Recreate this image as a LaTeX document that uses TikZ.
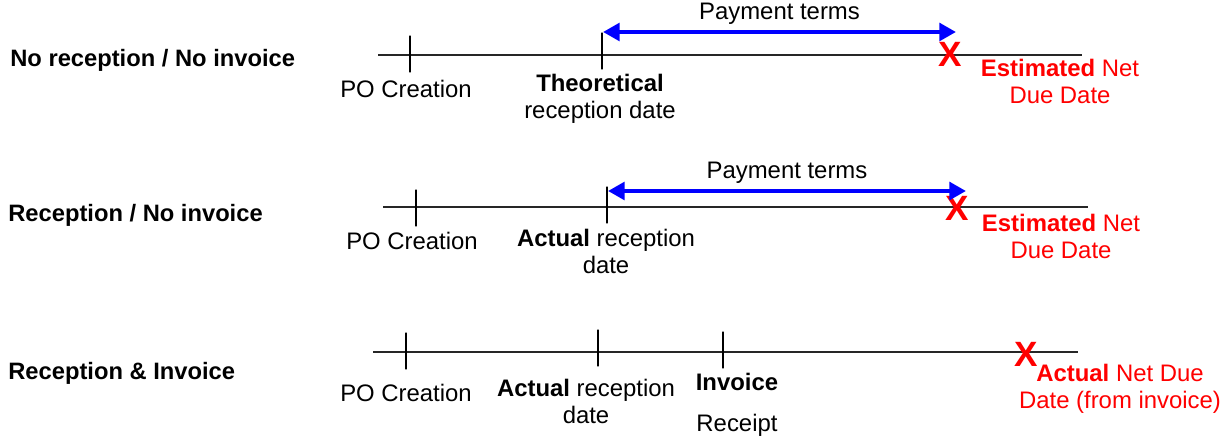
\documentclass[tikz,border=0pt]{standalone}
\usepackage{fontspec}
\setmainfont{Liberation Sans}
\usetikzlibrary{arrows.meta}
\definecolor{termblue}{RGB}{0,0,255}
\definecolor{duered}{RGB}{255,0,0}
\begin{document}
\begin{tikzpicture}[
  x=0.02cm, y=-0.02cm,
  font=\fontsize{13.6}{15.4}\selectfont,
  rowtitle/.style={anchor=west, inner sep=0pt, font=\fontsize{13.5}{16}\selectfont\bfseries},
  axis/.style={line width=1.2pt, black!85},
  tickmark/.style={draw, line width=1pt, rectangle, minimum width=0pt, minimum height=0.74cm, inner sep=0pt},
  lbl/.style={align=center, inner sep=0pt},
  due/.style={align=center, inner sep=0pt, text=duered},
  duex/.style={inner sep=0pt, text=duered, font=\fontsize{20}{20}\selectfont\bfseries},
  terms/.style={line width=2.6pt, termblue, {Triangle[length=9.5pt, width=10pt]}-{Triangle[length=9.5pt, width=10pt]}},
]
\useasboundingbox (0,0) rectangle (1228,442);

% row 1: no reception / no invoice
\node[rowtitle] (title1) at (10,60) {No reception / No invoice};
\coordinate (start1) at (378,55);
\coordinate (end1)   at (1082,55);
\draw[axis] (start1) -- (end1);
\node[tickmark] (po1) at (410,54) {};
\node[tickmark] (rec1) at (602,51) {};
\node[lbl] (polbl1) at (406,89) {PO Creation};
\node[lbl] (reclbl1) at (600,98.5) {\textbf{Theoretical}\\reception date};
\node[duex] (x1) at (950,54) {X};
\node[due] (duelbl1) at (1060,81) {\textbf{Estimated} Net\\Due Date};
\coordinate (tfrom1) at (603,32);
\coordinate (tto1)   at (956,32);
\draw[terms] (tfrom1) -- node[above=3pt, text=black, inner sep=0pt] (pay1) {Payment terms} (tto1);

% row 2: reception / no invoice
\node[rowtitle] (title2) at (8,215) {Reception / No invoice};
\coordinate (start2) at (383,207);
\coordinate (end2)   at (1088,207);
\draw[axis] (start2) -- (end2);
\node[tickmark] (po2) at (416,208) {};
\node[tickmark] (rec2) at (607,205) {};
\node[lbl] (polbl2) at (412,241) {PO Creation};
\node[lbl] (reclbl2) at (606,251.5) {\textbf{Actual} reception\\date};
\node[duex] (x2) at (957,208) {X};
\node[due] (duelbl2) at (1061,236.5) {\textbf{Estimated} Net\\Due Date};
\coordinate (tfrom2) at (608,191);
\coordinate (tto2)   at (966,191);
\draw[terms] (tfrom2) -- node[above=3pt, text=black, inner sep=0pt] (pay2) {Payment terms} (tto2);

% row 3: reception & invoice
\node[rowtitle] (title3) at (8,373) {Reception \& Invoice};
\coordinate (start3) at (373,352);
\coordinate (end3)   at (1078,352);
\draw[axis] (start3) -- (end3);
\node[tickmark] (po3) at (406,351) {};
\node[tickmark] (rec3) at (598,348) {};
\node[tickmark] (inv3) at (723,350) {};
\node[lbl] (polbl3) at (406,393) {PO Creation};
\node[lbl] (reclbl3) at (586,401) {\textbf{Actual} reception\\date};
\node[lbl] (invlbl3) at (737,404.5) {\textbf{Invoice}\\[0.28cm]Receipt};
\node[duex] (x3) at (1026,354) {X};
\node[due] (duelbl3) at (1120,388.5) {\textbf{Actual} Net Due\\Date (from invoice)};
\end{tikzpicture}
\end{document}
